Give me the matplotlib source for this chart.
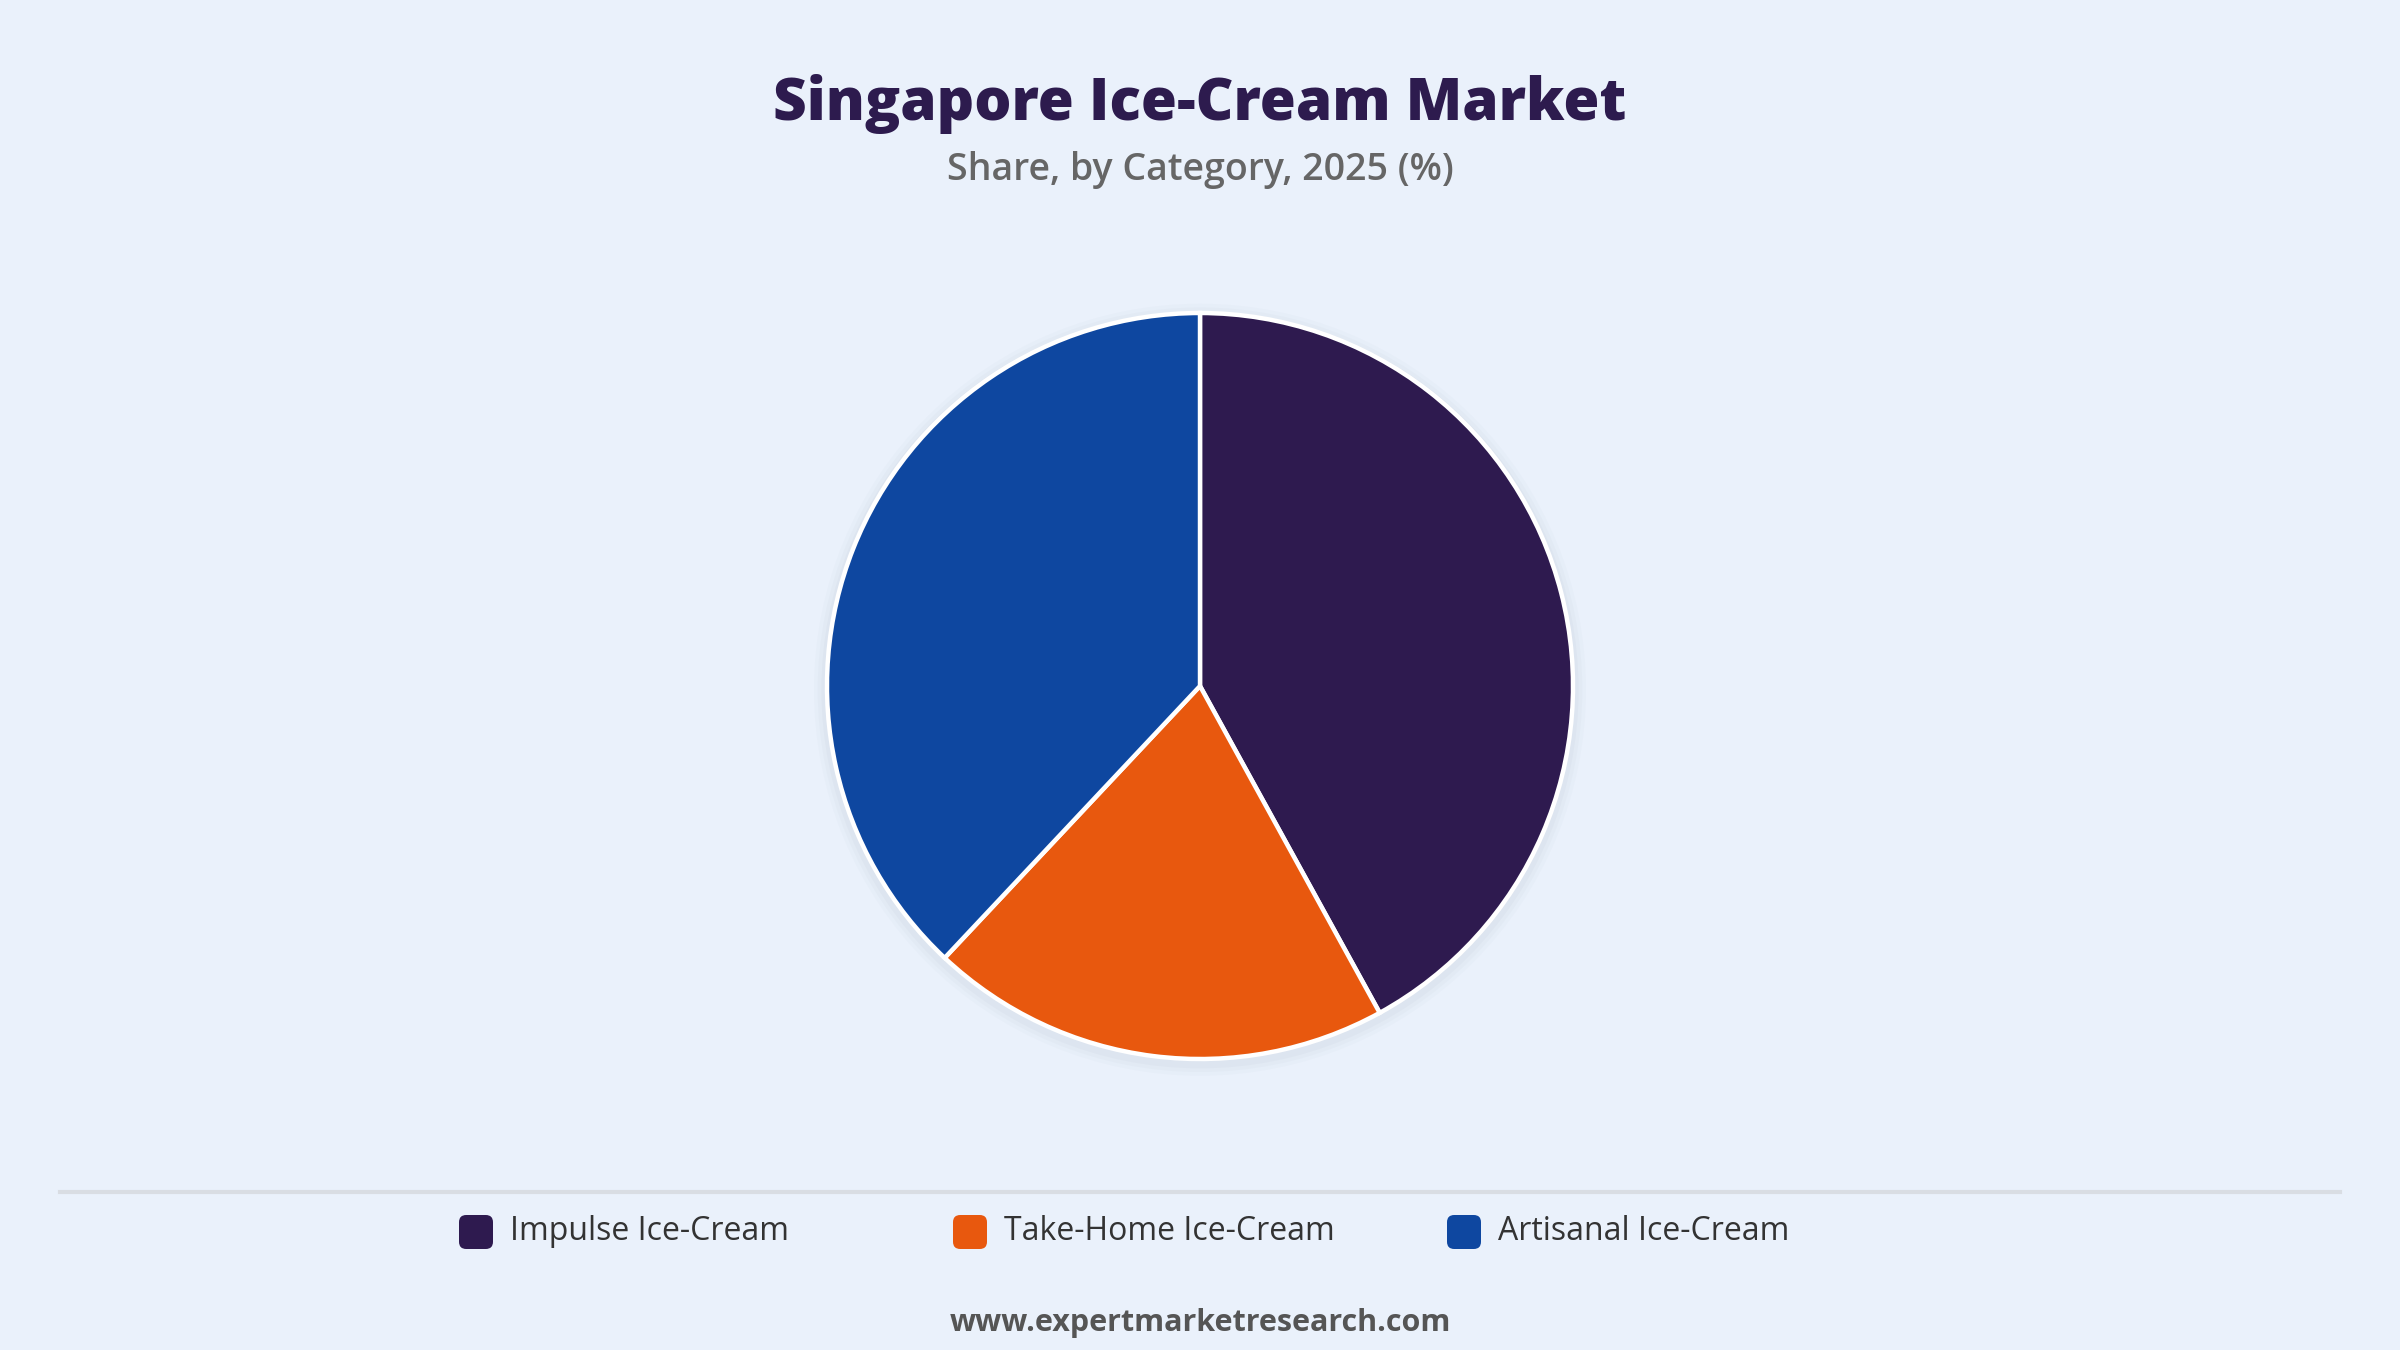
import matplotlib.pyplot as plt
from matplotlib.patches import FancyBboxPatch, Circle

plt.rcParams["font.family"] = ["Open Sans", "DejaVu Sans"]

# 数据
categories = ["Impulse Ice-Cream", "Take-Home Ice-Cream", "Artisanal Ice-Cream"]
shares = [42, 20, 38]
colors = ["#2e1a4f", "#e8580e", "#0e47a0"]

title = "Singapore Ice-Cream Market"
subtitle = "Share, by Category, 2025 (%)"
source = "www.expertmarketresearch.com"

BG = "#eaf1fb"
W, H = 2400, 1350

fig = plt.figure(figsize=(24, 13.5), dpi=100, facecolor=BG)

# 标题
fig.text(0.5, 1 - 104 / H, title, ha="center", va="center", fontsize=42,
         fontweight="heavy", color="#2d1b4e")
fig.text(0.5, 1 - 170 / H, subtitle, ha="center", va="center", fontsize=27,
         fontweight="semibold", color="#666666")

# 饼图
cx, cy, r = 1200, 686, 373
half = 420
ax = fig.add_axes([(cx - half) / W, (H - cy - half) / H, 2 * half / W, 2 * half / H])
ax.set_aspect("equal")
ax.axis("off")

# 柔和阴影
for k, a in [(1.035, 0.03), (1.025, 0.04), (1.015, 0.05)]:
    ax.add_patch(Circle((0.0, -0.01), k, color="#8a94a6", alpha=a, lw=0))

ax.pie(shares, colors=colors, startangle=90, counterclock=False, radius=1,
       wedgeprops=dict(edgecolor="white", linewidth=3.2))
ax.set_xlim(-half / r, half / r)
ax.set_ylim(-half / r, half / r)

# 分隔线
fig.add_artist(plt.Line2D([60 / W, 2340 / W], [1 - 1192 / H] * 2, color="#d9dde3",
                          lw=3, transform=fig.transFigure))

# 图例
ly = 1232
x0, step = 459, 494
sq = 34
for i, (cat, col) in enumerate(zip(categories, colors)):
    lx = x0 + i * step
    fig.add_artist(FancyBboxPatch((lx / W, 1 - (ly + sq / 2) / H), sq / W, sq / H,
                                  boxstyle="round,pad=0,rounding_size=0.003",
                                  transform=fig.transFigure, fc=col, ec="none",
                                  mutation_aspect=W / H))
    fig.text((lx + 51) / W, 1 - ly / H, cat, ha="left", va="center",
             fontsize=23, color="#333333")

# 来源
fig.text(0.5, 1 - 1323 / H, source, ha="center", va="center", fontsize=22,
         fontweight="bold", color="#555555")

fig.savefig("out.png", dpi=100, facecolor=BG)
